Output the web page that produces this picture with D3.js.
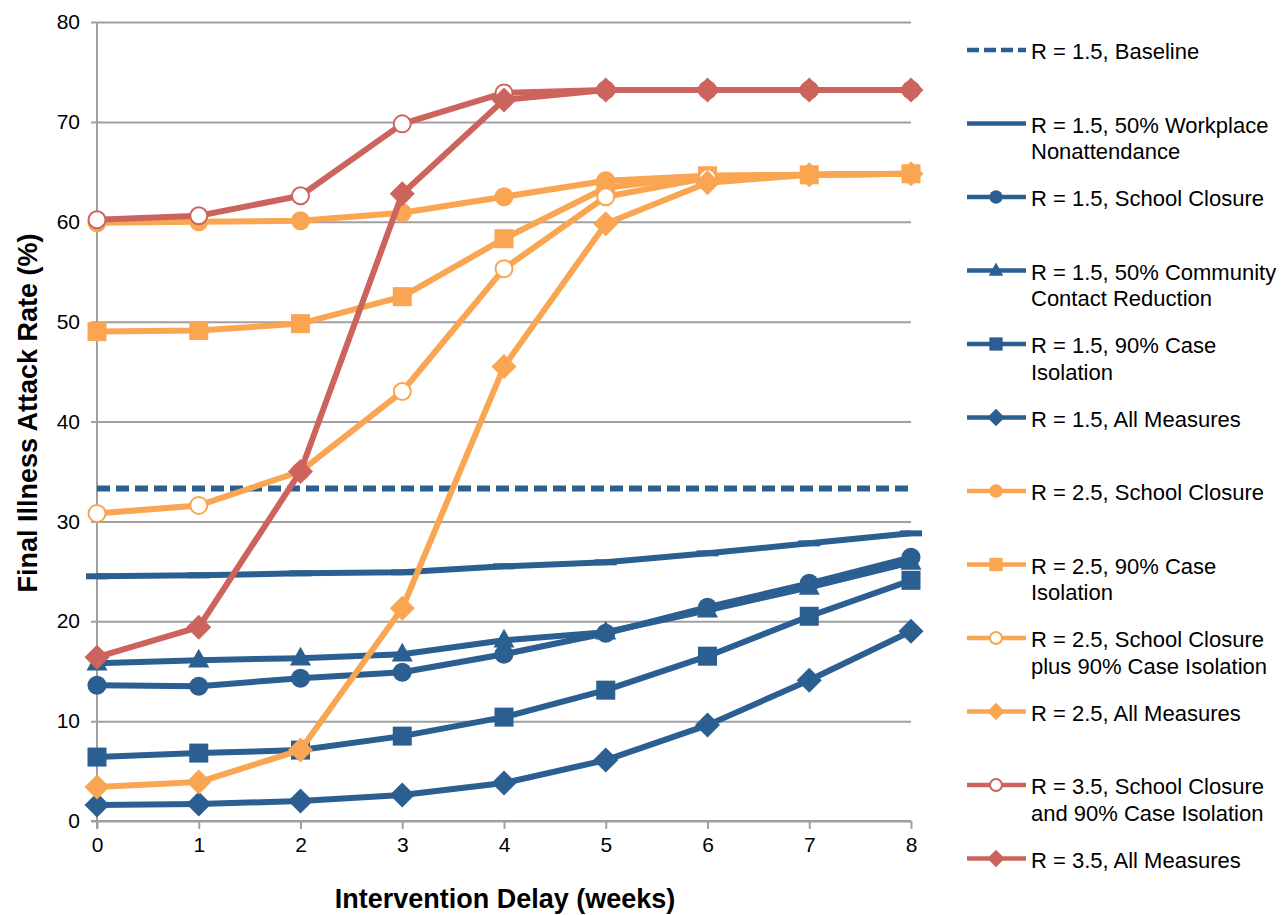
<!DOCTYPE html>
<html><head><meta charset="utf-8">
<script src="https://cdn.jsdelivr.net/npm/d3@7"></script>
<style>
html,body{margin:0;padding:0;background:#fff;}
svg{display:block;font-family:"Liberation Sans",Arial,sans-serif;}
</style></head>
<body>
<svg id="chart" width="1281" height="915"></svg>
<script>
const weeks = [0,1,2,3,4,5,6,7,8];
const yTicks = [0,10,20,30,40,50,60,70,80];

const baseline15      = [33.3,33.3,33.3,33.3,33.3,33.3,33.3,33.3,33.3];
const workplace15     = [24.5,24.6,24.8,24.9,25.5,25.9,26.8,27.8,28.8];
const school15        = [13.6,13.5,14.3,14.9,16.7,18.8,21.4,23.8,26.4];
const community15     = [15.8,16.1,16.3,16.7,18.1,18.9,21.1,23.4,25.9];
const caseIso15       = [6.4,6.8,7.1,8.5,10.4,13.1,16.5,20.5,24.1];
const allMeas15       = [1.6,1.7,2.0,2.6,3.8,6.1,9.6,14.1,19.0];
const school25        = [59.9,60.0,60.1,60.9,62.5,64.1,64.6,64.7,64.8];
const caseIso25       = [49.0,49.1,49.8,52.5,58.3,63.4,64.6,64.7,64.8];
const schoolCase25    = [30.8,31.6,35.0,43.0,55.3,62.5,64.4,64.7,64.8];
const allMeas25       = [3.4,3.9,7.1,21.3,45.5,59.8,63.9,64.7,64.8];
const schoolCase35    = [60.2,60.6,62.6,69.8,72.9,73.2,73.2,73.2,73.2];
const allMeas35       = [16.4,19.4,35.0,62.8,72.2,73.2,73.2,73.2,73.2];

const seriesNames = [
  ["R = 1.5, Baseline"],
  ["R = 1.5, 50% Workplace","Nonattendance"],
  ["R = 1.5, School Closure"],
  ["R = 1.5, 50% Community","Contact Reduction"],
  ["R = 1.5, 90% Case","Isolation"],
  ["R = 1.5, All Measures"],
  ["R = 2.5, School Closure"],
  ["R = 2.5, 90% Case","Isolation"],
  ["R = 2.5, School Closure","plus 90% Case Isolation"],
  ["R = 2.5, All Measures"],
  ["R = 3.5, School Closure","and 90% Case Isolation"],
  ["R = 3.5, All Measures"]
];

const BLUE = "#2b5e91", ORANGE = "#f9a552", RED = "#cc645d";
const series = [
  {v: baseline15,   c: BLUE,   m: "none", dash: true},
  {v: workplace15,  c: BLUE,   m: "dash"},
  {v: school15,     c: BLUE,   m: "circle"},
  {v: community15,  c: BLUE,   m: "triangle"},
  {v: caseIso15,    c: BLUE,   m: "square"},
  {v: allMeas15,    c: BLUE,   m: "diamond"},
  {v: school25,     c: ORANGE, m: "circle"},
  {v: caseIso25,    c: ORANGE, m: "square"},
  {v: schoolCase25, c: ORANGE, m: "open"},
  {v: allMeas25,    c: ORANGE, m: "diamond"},
  {v: schoolCase35, c: RED,    m: "open"},
  {v: allMeas35,    c: RED,    m: "diamond"}
];

const svg = d3.select("#chart");
const X0 = 97, X1 = 911, Y0 = 821, Y1 = 22;
const x = d3.scaleLinear().domain([0,8]).range([X0,X1]);
const y = d3.scaleLinear().domain([0,80]).range([Y0,Y1]);
const GRID = "#a0a0a0";
const FONT = "'Liberation Sans',Arial,sans-serif";

// Y gridlines + labels
const gy = svg.append("g").attr("transform",`translate(${X0},0)`)
  .call(d3.axisLeft(y).tickValues(yTicks).tickSize(-(X1-X0)).tickPadding(17));
gy.select(".domain").remove();
gy.selectAll(".tick line").attr("stroke",GRID).attr("stroke-width",2).attr("x1",-6);
gy.selectAll(".tick text").attr("font-size",21).attr("fill","#000").attr("font-family",FONT);

// X axis
const gx = svg.append("g").attr("transform",`translate(0,${Y0})`)
  .call(d3.axisBottom(x).tickValues(weeks).tickSize(8).tickPadding(8).tickFormat(d3.format("d")));
gx.select(".domain").attr("stroke",GRID).attr("stroke-width",2).attr("d",`M${X0-6},0H${X1}`);
gx.selectAll(".tick line").attr("stroke",GRID).attr("stroke-width",2);
gx.selectAll(".tick text").attr("font-size",21).attr("fill","#000").attr("font-family",FONT);

// Y axis line
svg.append("line").attr("x1",X0).attr("x2",X0).attr("y1",Y1).attr("y2",Y0+8)
  .attr("stroke",GRID).attr("stroke-width",2);

// Axis titles
svg.append("text").attr("transform",`translate(37,413) rotate(-90)`)
  .attr("text-anchor","middle").attr("font-size",27).attr("font-weight","bold")
  .text("Final Illness Attack Rate (%)");
svg.append("text").attr("x",505).attr("y",908)
  .attr("text-anchor","middle").attr("font-size",27).attr("font-weight","bold")
  .text("Intervention Delay (weeks)");

function drawMarker(g, type, cx, cy, color, scale){
  const s = scale || 1;
  if(type==="circle"){
    g.append("circle").attr("cx",cx).attr("cy",cy).attr("r",9.5*s).attr("fill",color);
  } else if(type==="open"){
    g.append("circle").attr("cx",cx).attr("cy",cy).attr("r",8.5*s).attr("fill","#fff")
      .attr("stroke",color).attr("stroke-width",2);
  } else if(type==="square"){
    const h = 9.5*s;
    g.append("rect").attr("x",cx-h).attr("y",cy-h).attr("width",2*h).attr("height",2*h).attr("fill",color);
  } else if(type==="diamond"){
    const h = 12.5*s;
    g.append("path").attr("d",`M${cx},${cy-h}L${cx+h},${cy}L${cx},${cy+h}L${cx-h},${cy}Z`).attr("fill",color);
  } else if(type==="triangle"){
    const h = 10.5*s;
    g.append("path").attr("d",`M${cx},${cy-h*1.1}L${cx+h},${cy+h*0.7}L${cx-h},${cy+h*0.7}Z`).attr("fill",color);
  } else if(type==="dash"){
    g.append("rect").attr("x",cx-11*s).attr("y",cy-3).attr("width",22*s).attr("height",6).attr("fill",color);
  }
}

const line = d3.line().x((d,i)=>x(weeks[i])).y(d=>y(d));
const plot = svg.append("g");
series.forEach(s=>{
  const g = plot.append("g");
  g.append("path").attr("d",line(s.v)).attr("fill","none").attr("stroke",s.c)
    .attr("stroke-width",6).attr("stroke-linejoin","round")
    .attr("stroke-dasharray", s.dash ? "13,6" : null);
  if(s.m!=="none") s.v.forEach((d,i)=>drawMarker(g,s.m,x(weeks[i]),y(d),s.c,1));
});

// Legend
const legY = [50,123.5,197,270.5,344,417.5,491,564.5,638,711.5,785,858.5];
const leg = svg.append("g");
series.forEach((s,i)=>{
  const ly = legY[i];
  const g = leg.append("g");
  g.append("line").attr("x1",967).attr("x2",1026).attr("y1",ly).attr("y2",ly)
    .attr("stroke",s.c).attr("stroke-width",4.5)
    .attr("stroke-dasharray", s.dash ? "12,5" : null);
  if(s.m!=="none" && s.m!=="dash") drawMarker(g,s.m,996,ly,s.c,0.7);
  const t = g.append("text").attr("x",1031).attr("y",ly+9).attr("font-size",22).attr("fill","#000");
  seriesNames[i].forEach((ln,j)=>{
    t.append("tspan").attr("x",1031).attr("dy", j===0?0:26.5).text(ln);
  });
});
</script>
</body></html>
